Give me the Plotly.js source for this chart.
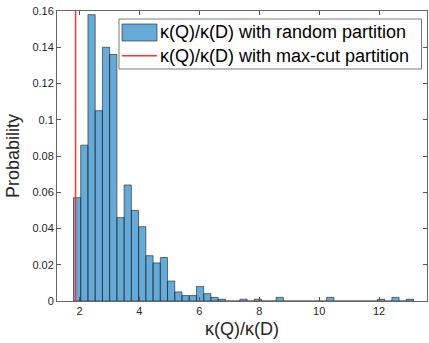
<!DOCTYPE html>
<html>
<head>
<meta charset="utf-8">
<script src="https://cdn.plot.ly/plotly-3.0.1.min.js"></script>
<style>html,body{margin:0;padding:0;background:#fff;}#chart{width:429px;height:343px;}</style>
</head>
<body>
<div id="chart"></div>
<script>
// Histogram bins (MATLAB-style, probability normalization)
var binStart = 1.8;
var binWidth = 0.2415;
var probabilities = [
  0.057, 0.086, 0.158, 0.105, 0.140, 0.136, 0.046, 0.064, 0.050, 0.041,
  0.025, 0.021, 0.024, 0.011, 0.005, 0.003, 0.003, 0.008, 0.004, 0.002,
  0.001, 0, 0, 0.001, 0, 0.001, 0, 0, 0.002, 0,
  0, 0, 0, 0, 0, 0.002, 0, 0, 0, 0,
  0, 0, 0.001, 0, 0.002, 0, 0.001
];
var maxCutRatio = 1.87;
var yTicks = [0, 0.02, 0.04, 0.06, 0.08, 0.1, 0.12, 0.14, 0.16];
var yTickLabels = ['0', '0.02', '0.04', '0.06', '0.08', '0.1', '0.12', '0.14', '0.16'];
var xTicks = [2, 4, 6, 8, 10, 12];
var xTickLabels = ['2', '4', '6', '8', '10', '12'];
var seriesNames = ['κ(Q)/κ(D) with random partition', 'κ(Q)/κ(D) with max-cut partition'];

var barFill = 'rgba(0,114,189,0.6)';
var barEdge = 'rgba(30,30,30,0.75)';
var lineColor = 'rgb(255,50,50)';

var centers = probabilities.map(function (p, i) { return binStart + binWidth * (i + 0.5); });

var barTrace = {
  type: 'bar',
  x: centers,
  y: probabilities,
  width: binWidth,
  name: seriesNames[0],
  showlegend: false,
  marker: { color: barFill, line: { color: barEdge, width: 0.8 } },
  hoverinfo: 'x+y'
};
var lineTrace = {
  type: 'scatter',
  mode: 'lines',
  x: [maxCutRatio, maxCutRatio],
  y: [0, 0.16],
  name: seriesNames[1],
  showlegend: false,
  line: { color: lineColor, width: 1.5 }
};

// Legend drawn in paper coordinates (MATLAB-style wide patch)
var L = 57, W = 370, T = 11, H = 290;
function px(x) { return (x - L) / W; }
function py(y) { return 1 - (y - T) / H; }

var shapes = [
  { type: 'rect', xref: 'paper', yref: 'paper', x0: px(119), x1: px(421.5), y0: py(69), y1: py(19),
    line: { color: '#7a7a7a', width: 1 }, fillcolor: '#fff', layer: 'above' },
  { type: 'rect', xref: 'paper', yref: 'paper', x0: px(122), x1: px(157), y0: py(41), y1: py(24),
    line: { color: barEdge, width: 0.8 }, fillcolor: barFill, layer: 'above' },
  { type: 'line', xref: 'paper', yref: 'paper', x0: px(122), x1: px(157), y0: py(55.7), y1: py(55.7),
    line: { color: lineColor, width: 1.5 }, layer: 'above' }
];
var annotations = [
  { xref: 'paper', yref: 'paper', x: px(158), y: py(32.5), xanchor: 'left', yanchor: 'middle',
    text: seriesNames[0], showarrow: false, font: { size: 18, color: '#000' } },
  { xref: 'paper', yref: 'paper', x: px(158), y: py(56), xanchor: 'left', yanchor: 'middle',
    text: seriesNames[1], showarrow: false, font: { size: 18, color: '#000' } }
];

var layout = {
  width: 429,
  height: 343,
  margin: { l: 57, r: 2, t: 11, b: 42 },
  paper_bgcolor: '#fff',
  plot_bgcolor: '#fff',
  bargap: 0,
  showlegend: false,
  font: { family: 'Liberation Sans, Arial, sans-serif', color: '#262626' },
  xaxis: {
    range: [1.25, 13.6],
    tickvals: xTicks,
    ticktext: xTickLabels,
    ticks: 'inside',
    ticklen: 4,
    tickcolor: '#555',
    showline: true,
    linecolor: '#666',
    linewidth: 1,
    mirror: 'ticks',
    showgrid: false,
    zeroline: false,
    tickfont: { size: 11, color: '#262626' },
    title: { text: 'κ(Q)/κ(D)', font: { size: 18, color: '#262626' }, standoff: 6 }
  },
  yaxis: {
    range: [0, 0.16],
    tickvals: yTicks,
    ticktext: yTickLabels,
    ticks: 'inside',
    ticklen: 4,
    tickcolor: '#555',
    showline: true,
    linecolor: '#666',
    linewidth: 1,
    mirror: 'ticks',
    showgrid: false,
    zeroline: false,
    tickfont: { size: 11, color: '#262626' },
    title: { text: 'Probability', font: { size: 18, color: '#262626' }, standoff: 8 }
  },
  shapes: shapes,
  annotations: annotations
};

Plotly.newPlot('chart', [barTrace, lineTrace], layout, { displayModeBar: false, staticPlot: true });
</script>
</body>
</html>
